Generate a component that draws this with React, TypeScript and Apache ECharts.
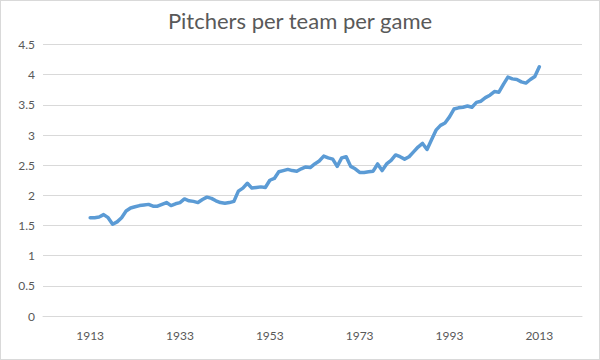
import React, { useEffect, useRef } from "react";
import * as echarts from "echarts";

const title = "Pitchers per team per game";
const firstYear = 1913;
const values = [
  1.63, 1.63, 1.64, 1.68, 1.63, 1.52, 1.56, 1.63, 1.74, 1.79,
  1.81, 1.83, 1.84, 1.85, 1.82, 1.82, 1.85, 1.88, 1.83, 1.86,
  1.88, 1.94, 1.91, 1.90, 1.88, 1.93, 1.97, 1.95, 1.91, 1.88,
  1.87, 1.88, 1.90, 2.07, 2.12, 2.20, 2.12, 2.13, 2.14, 2.13,
  2.25, 2.28, 2.39, 2.41, 2.43, 2.41, 2.40, 2.44, 2.47, 2.46,
  2.52, 2.57, 2.65, 2.62, 2.60, 2.48, 2.62, 2.64, 2.48, 2.44,
  2.38, 2.38, 2.39, 2.40, 2.52, 2.41, 2.52, 2.58, 2.67, 2.64,
  2.60, 2.64, 2.72, 2.80, 2.86, 2.76, 2.92, 3.08, 3.16, 3.20,
  3.30, 3.43, 3.45, 3.46, 3.48, 3.46, 3.54, 3.56, 3.62, 3.66,
  3.72, 3.71, 3.84, 3.96, 3.93, 3.92, 3.88, 3.86, 3.92, 3.97,
  4.13,
];
const xTickLabels = [1913, 1933, 1953, 1973, 1993, 2013];

export default function App() {
  const ref = useRef<HTMLDivElement>(null);
  useEffect(() => {
    if (!ref.current) return;
    const chart = echarts.init(ref.current, undefined, { renderer: "svg" });
    const data = values.map((v, i) => [firstYear + i, v]);
    chart.setOption({
      animation: false,
      title: {
        text: title,
        left: "center",
        top: 4,
        textStyle: {
          fontFamily: "Lato",
          fontSize: 22,
          fontWeight: "normal",
          color: "#595959",
        },
      },
      grid: { left: 43, right: 18, top: 44.5, bottom: 44, containLabel: false },
      xAxis: {
        type: "value",
        min: 1902.5,
        max: 2022.5,
        axisLine: { show: true, lineStyle: { color: "#d9d9d9", width: 1 } },
        axisTick: { show: false },
        splitLine: { show: false },
        axisLabel: {
          customValues: xTickLabels,
          formatter: (v: number) => String(v),
          color: "#595959",
          fontFamily: "Lato",
          fontSize: 12,
          margin: 13,
        },
      },
      yAxis: {
        type: "value",
        min: 0,
        max: 4.5,
        interval: 0.5,
        axisLine: { show: false },
        axisTick: { show: false },
        splitLine: { lineStyle: { color: "#d9d9d9", width: 1 } },
        axisLabel: {
          color: "#595959",
          fontFamily: "Lato",
          fontSize: 12,
          margin: 8,
        },
      },
      series: [
        {
          type: "line",
          data,
          showSymbol: false,
          lineStyle: { color: "#5B9BD5", width: 3.5, cap: "round", join: "round" },
          itemStyle: { color: "#5B9BD5" },
        },
      ],
    });
    return () => chart.dispose();
  }, []);
  return (
    <div
      style={{
        position: "fixed",
        left: 0,
        top: 0,
        width: 600,
        height: 360,
        boxSizing: "border-box",
        border: "1px solid #d9d9d9",
        background: "#fff",
      }}
    >
      <div ref={ref} style={{ position: "absolute", left: -1, top: -1, width: 600, height: 360 }} />
    </div>
  );
}
